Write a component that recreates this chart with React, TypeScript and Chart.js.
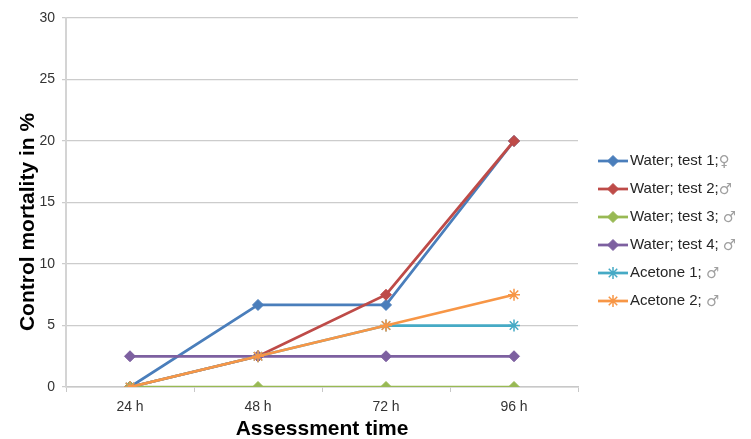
import { useEffect, useRef } from 'react';
import { Chart, registerables } from 'chart.js';
import { drawPoint } from 'chart.js/helpers';

Chart.register(...registerables);

const categories = ['24 h', '48 h', '72 h', '96 h'];
const water1 = [0, 6.67, 6.67, 20];
const water2 = [0, 2.5, 7.5, 20];
const water3 = [0, 0, 0, 0];
const water4 = [2.5, 2.5, 2.5, 2.5];
const acetone1 = [0, 2.5, 5, 5];
const acetone2 = [0, 2.5, 5, 7.5];
const seriesNames = ['Water; test 1;', 'Water; test 2;', 'Water; test 3; ', 'Water; test 4; ', 'Acetone 1; ', 'Acetone 2; '];
const seriesSymbols = ['♀', '♂', '♂', '♂', '♂', '♂'];
const seriesColors = ['#4A7EBB', '#BE4B48', '#98B954', '#7D60A0', '#46AAC5', '#F79646'];
const seriesMarkers = ['rectRot', 'rectRot', 'rectRot', 'rectRot', 'star', 'star'];
const yTicks = { min: 0, max: 30, step: 5 };
const xTitle = 'Assessment time';
const yTitle = 'Control mortality in %';

const FONT = '"Liberation Sans", Arial, sans-serif';

const customPlugin = {
  id: 'customDecor',
  afterDraw(chart: any) {
    const ctx = chart.ctx as CanvasRenderingContext2D;
    const area = chart.chartArea;
    ctx.save();
    // Axis titles
    ctx.fillStyle = '#000000';
    ctx.font = `bold 21px ${FONT}`;
    ctx.textAlign = 'center';
    ctx.textBaseline = 'middle';
    ctx.fillText(xTitle, (area.left + area.right) / 2, 429);
    ctx.save();
    ctx.translate(28, 222);
    ctx.rotate(-Math.PI / 2);
    ctx.fillText(yTitle, 0, 0);
    ctx.restore();

    // Legend
    const x0 = 598;
    const x1 = 628;
    const yStart = 161;
    const gap = 28;
    chart.data.datasets.forEach((ds: any, i: number) => {
      const y = yStart + i * gap;
      ctx.strokeStyle = ds.borderColor;
      ctx.lineWidth = 2.75;
      ctx.beginPath();
      ctx.moveTo(x0, y);
      ctx.lineTo(x1, y);
      ctx.stroke();
      ctx.fillStyle = ds.pointBackgroundColor;
      ctx.strokeStyle = ds.pointBorderColor;
      ctx.lineWidth = ds.pointBorderWidth;
      drawPoint(ctx, { pointStyle: ds.pointStyle, radius: ds.pointRadius, borderWidth: ds.pointBorderWidth, rotation: 0 } as any, (x0 + x1) / 2, y);
      ctx.font = `15px ${FONT}`;
      ctx.textAlign = 'left';
      ctx.textBaseline = 'middle';
      ctx.fillStyle = '#262626';
      const name = seriesNames[i];
      ctx.fillText(name, x1 + 2, y);
      const w = ctx.measureText(name).width;
      ctx.fillStyle = '#a0a0a0';
      ctx.font = `15px "DejaVu Sans", sans-serif`;
      ctx.fillText(seriesSymbols[i], x1 + 2 + w, y + 1);
    });
    ctx.restore();
  },
};

export default function App() {
  const ref = useRef<HTMLCanvasElement | null>(null);

  useEffect(() => {
    if (!ref.current) return;
    const values = [water1, water2, water3, water4, acetone1, acetone2];
    const n = values.length;
    const chart = new Chart(ref.current, {
      type: 'line',
      data: {
        labels: categories,
        datasets: values.map((v, i) => {
          const isStar = seriesMarkers[i] === 'star';
          return {
            label: seriesNames[i] + seriesSymbols[i],
            data: v,
            borderColor: seriesColors[i],
            backgroundColor: seriesColors[i],
            pointBackgroundColor: seriesColors[i],
            pointBorderColor: seriesColors[i],
            pointStyle: seriesMarkers[i] as any,
            pointRadius: isStar ? 6 : 5.5,
            pointBorderWidth: isStar ? 1.5 : 1,
            borderWidth: 2.75,
            tension: 0,
            fill: false,
            order: n - i,
          };
        }),
      },
      options: {
        animation: false,
        responsive: false,
        maintainAspectRatio: false,
        layout: { padding: { left: 0, right: 173, top: 18, bottom: 0 } },
        plugins: {
          legend: { display: false },
          tooltip: { enabled: false },
          title: { display: false },
        },
        scales: {
          x: {
            type: 'category',
            offset: true,
            grid: {
              offset: true,
              drawOnChartArea: false,
              drawTicks: true,
              tickLength: 5,
              color: '#c8c8c8',
            },
            border: { display: true, color: '#c8c8c8', width: 1.5 },
            ticks: { color: '#333333', font: { family: FONT, size: 14 }, padding: 7 },
            afterFit(scale: any) {
              scale.height = 52;
              scale.paddingLeft = 0;
              scale.paddingRight = 0;
            },
          },
          y: {
            min: yTicks.min,
            max: yTicks.max,
            ticks: { stepSize: yTicks.step, color: '#333333', font: { family: FONT, size: 14 }, padding: 7 },
            grid: { color: '#cccccc', tickLength: 4, lineWidth: 1.25 },
            border: { display: true, color: '#d4d4d4', width: 2 },
            afterFit(scale: any) {
              scale.width = 66;
              scale.paddingTop = 0;
              scale.paddingBottom = 0;
            },
          },
        },
      },
      plugins: [customPlugin],
    });
    return () => chart.destroy();
  }, []);

  return (
    <div style={{ position: 'fixed', left: 0, top: 0, width: 751, height: 439, background: '#ffffff' }}>
      <canvas ref={ref} width={751} height={439} style={{ width: 751, height: 439 }} />
    </div>
  );
}
